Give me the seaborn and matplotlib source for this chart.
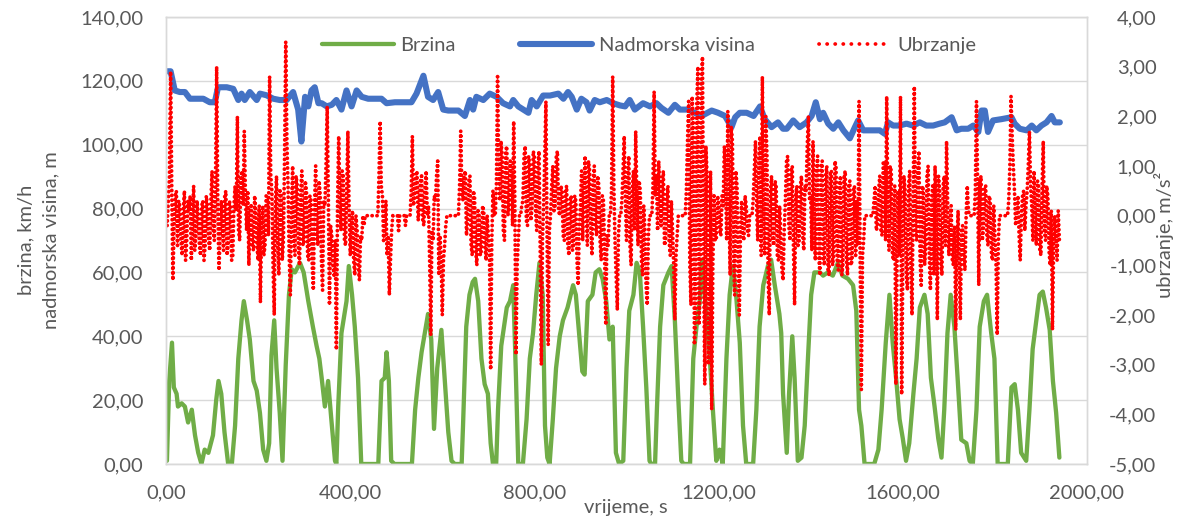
import numpy as np
import matplotlib
matplotlib.use("Agg")
import matplotlib.pyplot as plt
import seaborn as sns
from matplotlib.ticker import FuncFormatter
from matplotlib.lines import Line2D

# brzina (km/h)
t_speed = [2, 7, 13, 17, 23, 26, 34, 41, 48, 56, 63, 70, 77, 84, 92, 102, 109, 114, 120, 127,
           135, 143, 150, 157, 164, 169, 176, 182, 190, 197, 204, 211, 218, 224, 229, 235, 240, 247, 253, 260,
           267, 273, 280, 291, 299, 309, 319, 327, 333, 338, 345, 352, 359, 367, 370, 374, 381, 392, 397, 404,
           410, 417, 424, 461, 468, 475, 479, 484, 489, 496, 534, 541, 548, 555, 562, 569, 576, 582, 589, 598,
           605, 613, 620, 627, 642, 645, 652, 659, 666, 671, 678, 685, 692, 699, 705, 710, 717, 721, 728, 740,
           747, 754, 760, 765, 775, 783, 790, 797, 804, 811, 818, 823, 828, 833, 840, 847, 855, 862, 872, 884,
           890, 897, 904, 909, 916, 926, 933, 941, 948, 956, 963, 970, 977, 984, 993, 1000, 1006, 1015, 1022, 1029,
           1036, 1043, 1050, 1054, 1062, 1066, 1073, 1080, 1091, 1098, 1105, 1112, 1119, 1124, 1138, 1145, 1152, 1159, 1164, 1170,
           1181, 1188, 1195, 1202, 1209, 1217, 1224, 1231, 1238, 1246, 1253, 1260, 1275, 1282, 1289, 1297, 1307, 1314, 1322, 1332,
           1336, 1340, 1348, 1353, 1360, 1365, 1372, 1380, 1387, 1394, 1401, 1408, 1420, 1427, 1437, 1448, 1459, 1469, 1481, 1492,
           1499, 1505, 1510, 1517, 1538, 1547, 1554, 1563, 1571, 1578, 1586, 1593, 1600, 1607, 1614, 1623, 1630, 1637, 1647, 1654,
           1661, 1669, 1677, 1684, 1690, 1697, 1704, 1712, 1719, 1727, 1738, 1745, 1752, 1760, 1767, 1776, 1783, 1792, 1799, 1806,
           1828, 1836, 1843, 1850, 1857, 1868, 1875, 1882, 1890, 1897, 1904, 1911, 1919, 1926, 1933, 1940]
speed = [1, 26, 38, 24, 22, 18, 19, 18, 13, 17, 9, 3.5, 0, 4.5, 3.5, 9, 20, 26, 22, 10,
         0, 0, 12, 33, 45, 51, 45, 39, 26, 23, 16, 4.5, 1, 6.5, 34, 45, 30, 16, 1, 31,
         53, 61, 60, 63, 60, 51, 43, 37, 33, 27, 18, 26, 14, 1, 0, 18, 41, 51, 62, 53,
         43, 27, 0, 0, 26, 27, 35, 26, 1, 0, 0, 17, 27, 35, 41, 47, 39, 11, 30, 42,
         27, 10, 1, 0, 0, 12, 43, 53, 57, 58, 51, 33, 25, 22, 6.5, 0, 0, 17, 37, 49,
         51, 56, 27, 0, 0, 14, 33, 41, 53, 63, 53, 12, 2, 0, 14, 30, 40, 45, 49, 56,
         53, 41, 29, 28, 51, 53, 60, 61, 58, 51, 39, 43, 3.5, 0, 1, 30, 48, 53, 63, 60,
         43, 24, 1, 0, 0, 17, 43, 56, 60, 62, 45, 22, 1, 0, 0, 33, 43, 51, 64, 53,
         33, 16, 1, 4.5, 0, 33, 53, 62, 53, 38, 12, 0, 0, 17, 43, 56, 62, 64, 56, 47,
         41, 22, 3.5, 22, 40, 27, 1, 2, 12, 33, 53, 60, 60, 59, 60, 59, 63, 59, 58, 56,
         48, 17, 12, 0, 0, 4.5, 17, 38, 53, 38, 26, 14, 8, 1, 6.5, 22, 33, 49, 53, 47,
         27, 18, 8, 2, 17, 41, 53, 43, 27, 7.6, 6.5, 1, 0, 17, 43, 51, 53, 41, 33, 0,
         0, 24, 25, 17, 3.5, 1, 17, 36, 45, 53, 54, 49, 42, 26, 16, 2]

# nadmorska visina (m)
t_alt = [1, 10, 19, 30, 41, 52, 67, 81, 95, 106, 113, 132, 146, 157, 164, 171, 182, 197, 204, 218,
         233, 247, 262, 276, 287, 294, 302, 309, 316, 323, 331, 338, 349, 360, 370, 381, 392, 403, 414, 425,
         439, 468, 479, 497, 533, 544, 559, 569, 580, 591, 602, 613, 635, 649, 660, 667, 674, 689, 703, 718,
         732, 747, 754, 765, 776, 787, 794, 805, 819, 834, 852, 863, 873, 881, 892, 902, 913, 920, 931, 942,
         957, 971, 986, 997, 1007, 1018, 1036, 1051, 1065, 1076, 1091, 1105, 1116, 1134, 1148, 1163, 1185, 1199, 1214, 1228,
         1236, 1246, 1261, 1276, 1290, 1300, 1315, 1329, 1340, 1348, 1362, 1376, 1391, 1402, 1411, 1420, 1427, 1438, 1449, 1460,
         1471, 1485, 1496, 1503, 1514, 1536, 1550, 1561, 1568, 1579, 1593, 1608, 1622, 1637, 1651, 1666, 1680, 1691, 1706, 1717,
         1727, 1742, 1753, 1764, 1771, 1778, 1785, 1796, 1814, 1836, 1843, 1854, 1869, 1880, 1890, 1901, 1912, 1923, 1930, 1941]
altitude = [123, 123, 117, 116.5, 116.5, 114.4, 114.4, 114.4, 113.3, 113.3, 118, 118, 117.5, 114, 116, 114, 116.5, 114, 116, 115.5,
            114.4, 114, 114, 116.5, 111, 101, 115, 112, 117, 118, 113, 113, 112, 112.5, 114, 111, 117, 112, 117, 115,
            114.4, 114.4, 113, 113.3, 113.3, 116, 121.6, 115, 114, 116.5, 111, 110.7, 110.7, 109, 114, 111, 115, 114, 116, 115,
            113, 112, 114, 112, 111, 110, 114, 112, 115.4, 115.4, 116, 114.4, 116.5, 115, 111, 114.4, 113.3, 110.7, 114, 113.3,
            114, 113, 112.3, 112, 114, 111, 113, 112, 113, 111.5, 110, 112.5, 111, 111, 110, 109, 110.7, 110, 109, 105.5,
            108.6, 110, 110, 109, 112, 108, 105.5, 107, 105, 105, 107.6, 105.5, 107, 109, 113.3, 108, 110, 106.6, 105, 107,
            104.5, 102, 105.5, 107.6, 104.5, 104.5, 104.5, 103.4, 107, 106, 106, 106.6, 106, 107, 106, 106, 106.6, 107, 108.6, 104.5,
            105, 105, 106, 104, 110.7, 110.7, 104, 107.6, 108, 108.6, 106.6, 105, 104.5, 106, 104.5, 106, 107, 109, 107, 107]

# ubrzanje (m/s2), one value every 2.5 s, one row per 100 s
acc_rows = [
    [0.0, -0.2, 0.3, 0.8, 2.9, 0.6, -1.3, -0.2, 0.4, 0.5, -0.6, 0.3, 0.2, -0.5, -0.8, 0.1, 0.5, -0.9, -0.5, 0.3,
     0.1, 0.4, -0.9, -0.2, 0.6, -0.7, -0.4, 0.3, 0.0, -0.6, -0.8, 0.2, 0.3, -0.9, -0.6, 0.4, 0.2, -0.5, -0.7, 0.3],
    [0.9, -0.3, -0.5, 0.6, 3.0, 0.2, -1.1, -0.4, 0.3, -0.2, -0.7, 0.4, 0.5, -0.8, -0.6, 0.3, 0.2, -0.9, -0.8, 0.2,
     0.6, 0.1, 2.0, -0.3, -0.5, 0.8, 0.9, 0.2, 1.7, 0.4, -0.3, 0.5, -1.0, 0.1, 0.2, -0.6, -0.7, 0.4, 0.1, -0.6],
    [-0.9, 0.2, -1.75, -0.3, 0.2, -0.8, -0.6, 0.4, 0.3, -0.4, 2.8, 0.8, 0.5, -1.0, -2.0, 0.3, 0.8, -0.6, -1.2, 0.5,
     0.4, -0.9, -0.5, 1.2, 3.5, 1.5, 0.6, -0.8, -1.6, 0.2, 1.0, -0.5, -0.8, 0.8, 0.6, -0.7, -1.0, 0.5, 0.9, -0.6],
    [-0.5, 0.7, 0.5, -0.8, -0.9, 0.4, 0.3, -1.0, -1.5, 0.2, 1.0, -0.4, -0.6, 0.7, 0.4, -0.9, -1.5, 0.3, 0.2, 1.0,
     2.2, 0.4, -1.8, -0.2, -0.4, -1.0, -1.2, -0.5, -2.7, 0.2, 1.6, 0.3, -0.3, 0.9, 0.8, -0.5, -0.6, 0.6, 1.7, 0.2],
    [-0.8, -0.3, 0.1, -0.9, -1.2, 0.0, -0.3, -1.0, -1.3, -0.4, -0.5, 0.0, -0.2, 0.0, 0.0, 0.0, 0.0, 0.0, 0.0, 0.0,
     0.0, 0.0, 0.0, 0.0, 0.0, 0.8, 1.9, 0.6, 0.4, -0.5, -0.3, 0.3, -0.8, -0.4, -1.6, -0.9, -0.3, 0.0, 0.0, 0.0],
    [0.0, 0.0, -0.3, 0.0, 0.0, 0.0, 0.0, 0.0, -0.2, 0.0, 0.0, 0.0, 0.0, 0.5, 1.6, 0.2, 0.4, 0.8, 0.9, -0.1,
     0.1, 0.7, 0.8, -0.1, -0.2, 0.6, 0.9, 0.0, 0.2, -0.9, -2.4, -0.3, -0.5, 0.4, 0.3, 0.8, 1.1, -1.2, -0.4, -0.9],
    [-2.0, -0.9, -0.6, -0.2, 0.0, 0.0, 0.0, 0.0, 0.0, 0.0, 0.0, 0.0, 0.0, 0.0, 0.0, 0.6, 1.7, 0.5, 0.3, 0.8,
     0.9, -0.4, -0.1, 0.7, 0.8, -0.6, -0.8, 0.5, 0.4, -0.7, -1.0, 0.1, 0.0, -0.8, -0.7, 0.2, 0.1, -0.6, -0.9, 0.0],
    [-0.4, -0.8, -3.1, -0.5, 0.5, 0.0, 0.0, 0.6, 2.8, 1.0, 0.3, 1.5, 1.2, -0.3, -0.5, 1.3, 1.4, 0.0, 0.2, 1.1,
     0.8, -0.2, 1.9, 0.3, -2.8, -1.0, -0.5, 0.0, 0.0, 0.2, 0.3, 1.2, 1.4, -0.1, -0.2, 1.2, 1.0, -0.1, 0.2, 1.3],
    [1.2, 0.1, -0.3, 1.0, 1.3, -0.6, -3.0, -0.5, 0.2, 1.2, 2.3, -0.4, -2.6, -0.3, 0.0, 0.6, 1.0, 0.1, 0.2, 1.2,
     1.3, 0.1, 0.0, 0.6, 0.5, -0.4, -0.5, 0.5, 0.6, -0.6, -0.8, 0.3, 0.4, -0.7, -0.6, 0.4, 0.3, -0.9, -1.4, -0.2],
    [0.2, 0.9, -0.5, 0.4, 1.2, 0.2, -0.6, 1.1, 0.9, -0.3, -0.8, 0.7, 1.0, -0.2, -0.4, 0.8, 0.6, -0.5, -0.9, 0.4,
     0.3, -0.8, -2.2, -0.4, -0.6, 0.0, 0.0, 0.5, 2.8, 0.6, -0.5, -1.2, -1.9, -0.4, 0.0, 0.0, 0.3, 0.9, 1.6, 0.4],
    [-0.5, 0.8, 1.2, -0.6, -1.0, 0.5, 0.9, -0.3, 1.7, 0.4, -0.6, 0.7, 0.5, -0.9, -1.2, 0.2, -0.3, -1.4, -1.8, -0.4,
     0.0, 0.0, 0.0, 0.6, 2.5, 0.4, 0.8, -0.3, 1.1, 0.5, -0.2, 0.7, 0.9, -0.6, -0.5, 0.4, 0.6, -0.5, -0.8, 0.3],
    [-0.3, -1.0, -2.1, -0.8, -0.4, 0.0, 0.0, 0.0, 0.0, 0.0, 0.0, 0.0, 0.5, 1.5, 2.3, -1.0, -1.8, 2.4, 1.9, -2.6,
     -2.0, 2.2, 3.0, -2.2, -1.5, 2.7, 3.2, -1.0, -3.4, 1.4, 0.8, -3.0, -2.4, 0.9, -3.9, -1.0, 0.4, -0.5, -0.5, 0.4],
    [0.3, -0.3, -0.4, 0.4, 0.2, 1.4, 1.0, -0.5, 2.1, 0.3, -1.2, 1.8, 1.5, -0.8, -1.6, 0.9, 0.6, -1.0, -2.0, -0.3,
     0.3, -0.4, -0.5, 0.4, 0.2, -0.3, -0.4, 0.0, 0.0, 0.0, 0.3, 0.9, 1.5, 0.2, -0.5, 1.2, 1.6, -0.8, 2.8, 0.5],
    [-0.8, 2.0, 1.2, -1.2, -2.0, 0.5, 0.8, -0.5, -0.6, 0.7, 0.6, -0.8, -0.9, 0.2, -0.4, -1.1, -1.3, -0.3, 0.3, 1.1,
     1.2, -0.2, -0.5, 0.9, 1.0, -0.6, -1.8, 0.4, 0.6, -0.6, -0.5, 0.6, 0.8, -0.4, -0.7, 0.6, 0.5, 1.4, 2.0, 0.3],
    [0.4, -0.7, 1.5, 0.2, -0.9, 0.9, 1.2, -0.8, -1.2, 1.0, 1.1, -0.9, -1.0, 0.8, 1.0, -1.1, -1.2, 0.9, 0.9, -1.0,
     -0.8, 1.1, 1.0, -0.9, -1.1, 0.7, 0.8, -1.2, -1.0, 0.8, 0.9, -0.9, -1.2, 0.6, 0.7, -1.0, -0.9, 0.5, 0.6, -0.8],
    [0.3, -0.6, 2.3, -1.0, -3.5, -0.8, -0.5, 0.0, 0.0, 0.0, 0.0, 0.0, 0.0, 0.0, 0.0, 0.3, 0.6, -0.3, -0.2, 0.5,
     0.8, -0.3, -0.4, 1.1, 1.0, -0.5, 2.4, 0.2, -0.7, 1.0, 0.9, -0.8, -0.9, 0.6, -3.4, -1.0, 0.5, -0.8, 2.4, -3.6],
    [-1.0, 0.8, 0.5, -1.2, -1.5, 0.6, 0.9, -1.0, -2.0, 0.4, 2.6, -0.3, -0.5, 0.9, 1.3, -0.9, -1.4, 0.6, 0.5, -1.0,
     -0.6, 0.8, 1.0, -0.8, -1.5, 0.3, 0.6, -1.2, 1.0, 0.2, -2.1, 0.8, 0.5, -0.9, -1.2, 0.6, 0.8, -0.6, 1.5, 0.2],
    [-0.8, -0.3, 0.2, -0.9, -1.0, -0.2, -2.3, -0.6, 0.1, -1.0, -2.1, -0.3, -0.2, -0.9, -1.1, 0.0, 0.6, 0.1, 0.0, 0.0,
     0.0, 0.0, 0.0, 0.5, 2.3, 0.6, -1.4, 0.7, 0.8, -0.5, -0.3, 0.6, 0.6, -0.4, -0.6, 0.4, 0.3, -0.8, -0.9, 0.2],
    [-0.4, -1.0, -2.4, -0.5, 0.0, 0.0, 0.0, 0.0, 0.0, 0.0, 0.0, 0.0, 0.3, 1.0, 2.4, 1.6, 1.0, 0.5, -0.2, 0.1,
     0.4, -0.4, -0.9, 0.0, 0.4, 0.5, -0.3, 0.2, 0.5, 1.0, 1.7, 0.6, 0.2, -0.5, 0.9, 0.0, -0.6, 0.7, 0.6, -0.7],
    [-0.8, 0.6, 1.5, -0.3, -0.5, 0.6, 0.4, -0.7, -1.0, 0.1, -2.3, -0.6, 0.0, -0.4, -0.9, 0.1, -0.5],
]
t_acc = [100 * r + 2.5 * j for r, row in enumerate(acc_rows) for j in range(len(row))]
acceleration = [v for row in acc_rows for v in row]

sns.set_theme(style="white")
plt.rcParams["font.family"] = ["Lato", "DejaVu Sans"]
grey = "#595959"
green, blue, red = "#70AD47", "#4472C4", "#FF0000"
dots = (0, (0.05, 1.25))

fig = plt.figure(figsize=(11.79, 5.21), dpi=100)
ax = fig.add_axes([166 / 1179, 1 - 464 / 521, 921 / 1179, 447 / 521])
ax2 = ax.twinx()

sns.lineplot(x=t_speed, y=speed, ax=ax, color=green, linewidth=3.1, legend=False)
sns.lineplot(x=t_alt, y=altitude, ax=ax, color=blue, linewidth=4.4, legend=False)
sns.lineplot(x=t_acc, y=acceleration, ax=ax2, color=red, linewidth=2.7,
             linestyle=dots, dash_capstyle="round", legend=False)

comma = FuncFormatter(lambda v, p: f"{v:.2f}".replace(".", ","))
ax.set_xlim(0, 2000)
ax.set_ylim(0, 140)
ax2.set_ylim(-5, 4)
ax.set_xticks(range(0, 2001, 400))
ax.set_yticks(range(0, 141, 20))
ax2.set_yticks(range(-5, 5))
for a in (ax.xaxis, ax.yaxis, ax2.yaxis):
    a.set_major_formatter(comma)
ax.set_xlabel("")
ax.set_ylabel("")
ax2.set_ylabel("")

ax.yaxis.grid(True, color="#d9d9d9", linewidth=1.0)
ax.set_axisbelow(True)
for a in (ax, ax2):
    for s in a.spines.values():
        s.set_color("#d9d9d9")
        s.set_linewidth(1.0)

ax.tick_params(axis="both", length=0, labelsize=14.5, labelcolor=grey)
ax.tick_params(axis="y", pad=16.5)
ax.tick_params(axis="x", pad=15)
ax2.tick_params(axis="y", length=0, labelsize=14.5, labelcolor=grey, pad=50)
plt.setp(ax2.get_yticklabels(), ha="right")

fig.text(38.5 / 1179, 1 - 240 / 521, "brzina, km/h\nnadmorska visina, m", rotation=90,
         ha="center", va="center", fontsize=14.5, color=grey, linespacing=1.6)
fig.text(1164 / 1179, 1 - 235 / 521, "ubrzanje, m/s²", rotation=90,
         ha="center", va="center", fontsize=14.5, color=grey)
fig.text(626 / 1179, 1 - 508 / 521, "vrijeme, s", ha="center", va="center",
         fontsize=14.5, color=grey)

# legend sample for the dotted series has wider spacing, like the reference
handles = [Line2D([], [], color=green, linewidth=3.1),
           Line2D([], [], color=blue, linewidth=4.4),
           Line2D([], [], color=red, linewidth=2.7, linestyle=(0, (0.05, 2.1)),
                  dash_capstyle="round")]
fig.legend(handles, ["Brzina", "Nadmorska visina", "Ubrzanje"], loc="center",
           bbox_to_anchor=(649 / 1179, 1 - 45 / 521), ncol=3, frameon=False,
           fontsize=14.5, labelcolor=grey, handlelength=3.6, columnspacing=3.2,
           handletextpad=0.3)

fig.savefig("out.png", dpi=100)
